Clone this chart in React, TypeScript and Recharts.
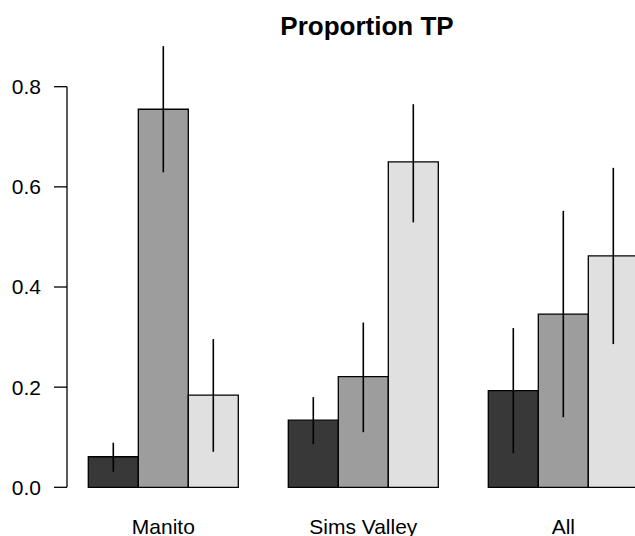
import React from 'react';
import { BarChart, Bar, XAxis, YAxis, ErrorBar } from 'recharts';

const title = 'Proportion TP';
const categories = ['Manito', 'Sims Valley', 'All'];

const darkValues = [0.061, 0.134, 0.193];
const darkLower = [0.031, 0.086, 0.068];
const darkUpper = [0.089, 0.18, 0.318];

const midValues = [0.755, 0.221, 0.346];
const midLower = [0.629, 0.11, 0.14];
const midUpper = [0.881, 0.329, 0.552];

const lightValues = [0.184, 0.65, 0.462];
const lightLower = [0.071, 0.529, 0.286];
const lightUpper = [0.296, 0.765, 0.638];

const yTicks = [0, 0.2, 0.4, 0.6, 0.8];

const data = categories.map((name, i) => ({
  name,
  dark: darkValues[i],
  darkErr: [darkValues[i] - darkLower[i], darkUpper[i] - darkValues[i]],
  mid: midValues[i],
  midErr: [midValues[i] - midLower[i], midUpper[i] - midValues[i]],
  light: lightValues[i],
  lightErr: [lightValues[i] - lightLower[i], lightUpper[i] - lightValues[i]],
}));

const FONT = '"Liberation Sans", Arial, Helvetica, sans-serif';

export default function App() {
  return (
    <div
      style={{
        position: 'fixed',
        left: 0,
        top: 0,
        width: 635,
        height: 536,
        overflow: 'hidden',
        background: '#fff',
        fontFamily: FONT,
      }}
    >
      <style>{`.recharts-wrapper g[clip-path]{clip-path:none !important;}`}</style>
      <BarChart
        width={700}
        height={536}
        data={data}
        margin={{ top: 86.7, right: 36.7, bottom: 18.7, left: 0 }}
        barCategoryGap="12.5%"
        barGap={0}
        style={{ fontFamily: FONT }}
      >
        <XAxis
          dataKey="name"
          axisLine={false}
          tickLine={false}
          tickSize={0}
          tickMargin={32}
          height={30}
          interval={0}
          padding={{ left: -3.7, right: 0 }}
          tick={{ fill: '#000', fontSize: 21 }}
        />
        <YAxis
          domain={[0, 0.8]}
          allowDataOverflow
          ticks={yTicks}
          tickFormatter={(v: number) => v.toFixed(1)}
          width={67}
          tickSize={13}
          tickMargin={13}
          axisLine={{ stroke: '#000', strokeWidth: 1.3 }}
          tickLine={{ stroke: '#000', strokeWidth: 1.3 }}
          tick={{ fill: '#000', fontSize: 21 }}
        />
        <Bar dataKey="dark" fill="#383838" stroke="#000" strokeWidth={1.3} isAnimationActive={false}>
          <ErrorBar dataKey="darkErr" width={0} stroke="#000" strokeWidth={1.6} direction="y" />
        </Bar>
        <Bar dataKey="mid" fill="#9d9d9d" stroke="#000" strokeWidth={1.3} isAnimationActive={false}>
          <ErrorBar dataKey="midErr" width={0} stroke="#000" strokeWidth={1.6} direction="y" />
        </Bar>
        <Bar dataKey="light" fill="#e0e0e0" stroke="#000" strokeWidth={1.3} isAnimationActive={false}>
          <ErrorBar dataKey="lightErr" width={0} stroke="#000" strokeWidth={1.6} direction="y" />
        </Bar>
      </BarChart>
      <div
        style={{
          position: 'absolute',
          left: 0,
          top: 13,
          width: 734,
          textAlign: 'center',
          fontSize: 26,
          lineHeight: '26px',
          fontWeight: 'bold',
          color: '#000',
          fontFamily: FONT,
        }}
      >
        {title}
      </div>
    </div>
  );
}
